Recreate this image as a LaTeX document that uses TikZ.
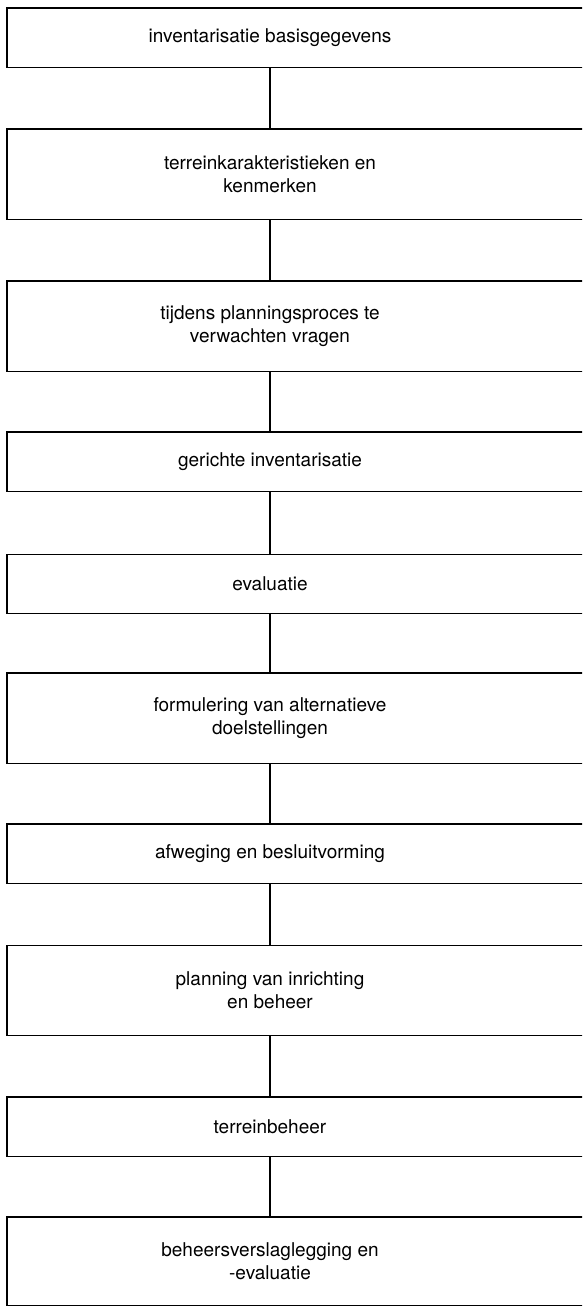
\documentclass[tikz,border=0pt]{standalone}
\usepackage{fontspec}
\setmainfont{TeX Gyre Heros}
\usepackage{tikz}
\usetikzlibrary{positioning}

\tikzset{
  stap/.style={minimum width=526pt,inner sep=0pt,align=center,
    font=\fontsize{19}{23}\selectfont},
  kort/.style={stap,minimum height=59pt},
  lang/.style={stap,minimum height=90pt},
  kader/.style={line width=1.4pt},
  link/.style={line width=1.4pt}
}

\begin{document}
\begin{tikzpicture}[x=1pt,y=-1pt]
  \useasboundingbox (0,0) rectangle (582,1307);
  \clip (0,0) rectangle (582,1307);
  \node[kort] (basis) at (270,37.5) {inventarisatie basisgegevens};
  \node[lang] (kenm) at (270,174) {terreinkarakteristieken en\\kenmerken};
  \node[lang] (vragen) at (270,326) {tijdens planningsproces te\\verwachten vragen};
  \node[kort] (gericht) at (270,461.5) {gerichte inventarisatie};
  \node[kort] (eval) at (270,584) {evaluatie};
  \node[lang] (doel) at (270,718) {formulering van alternatieve\\doelstellingen};
  \node[kort] (besluit) at (270,853.5) {afweging en besluitvorming};
  \node[lang] (plan) at (270,990.5) {planning van inrichting\\en beheer};
  \node[kort] (beheer) at (270,1126.5) {terreinbeheer};
  \node[lang,minimum height=88pt] (verslag) at (270,1261) {beheersverslaglegging en\\-evaluatie};
  % kaders lopen rechts over de rand door
  \foreach \n in {basis,kenm,vragen,gericht,eval,doel,besluit,plan,beheer,verslag}
    \draw[kader] (\n.north west) rectangle ([xshift=80pt]\n.south east);
  \foreach \a/\b in {basis/kenm,kenm/vragen,vragen/gericht,gericht/eval,eval/doel,
                     doel/besluit,besluit/plan,plan/beheer,beheer/verslag}
    \draw[link] (\a.south) -- (\b.north);
\end{tikzpicture}
\end{document}
